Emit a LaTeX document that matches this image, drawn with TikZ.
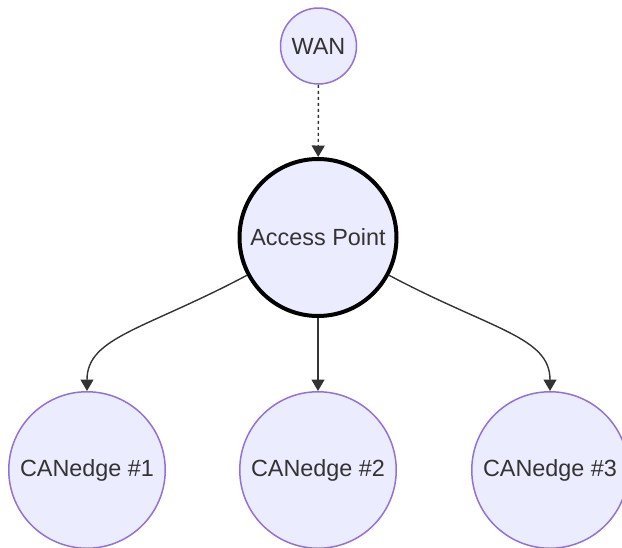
\documentclass[tikz,border=0pt]{standalone}
\usepackage{fontspec}
\setmainfont{Liberation Sans}
\usetikzlibrary{arrows.meta}
\definecolor{lavande}{RGB}{236,236,255}
\definecolor{violet}{RGB}{147,112,219}
\definecolor{gris}{RGB}{51,51,51}
\begin{document}
\begin{tikzpicture}[x=1pt,y=-1pt,
  noeud/.style={circle,draw=violet,fill=lavande,line width=1.5pt,inner sep=0pt,
    text=gris,font=\fontsize{23.4}{28}\selectfont},
  lien/.style={draw=gris,line width=1.4pt,-{Triangle[length=11.5pt,width=13pt]}}]
\useasboundingbox (0,0) rectangle (622,547);
\node[noeud,minimum size=76pt] (wan) at (318.5,46) {WAN};
\node[noeud,draw=black,line width=4pt,minimum size=157pt] (ap) at (318,237.5) {Access Point};
\node[noeud,minimum size=156.5pt] (ce1) at (87,470) {CANedge \#1};
\node[noeud,minimum size=156.5pt] (ce2) at (318,470) {CANedge \#2};
\node[noeud,minimum size=156.5pt] (ce3) at (550,470) {CANedge \#3};

\draw[lien,dash pattern=on 3pt off 3pt] (wan) -- (ap);
\draw[lien] (ap.208) to[out=208,in=90,out looseness=1.5,in looseness=0.7] (ce1.north);
\draw[lien] (ap) -- (ce2);
\draw[lien] (ap.332) to[out=332,in=90,out looseness=1.5,in looseness=0.7] (ce3.north);
\end{tikzpicture}
\end{document}
